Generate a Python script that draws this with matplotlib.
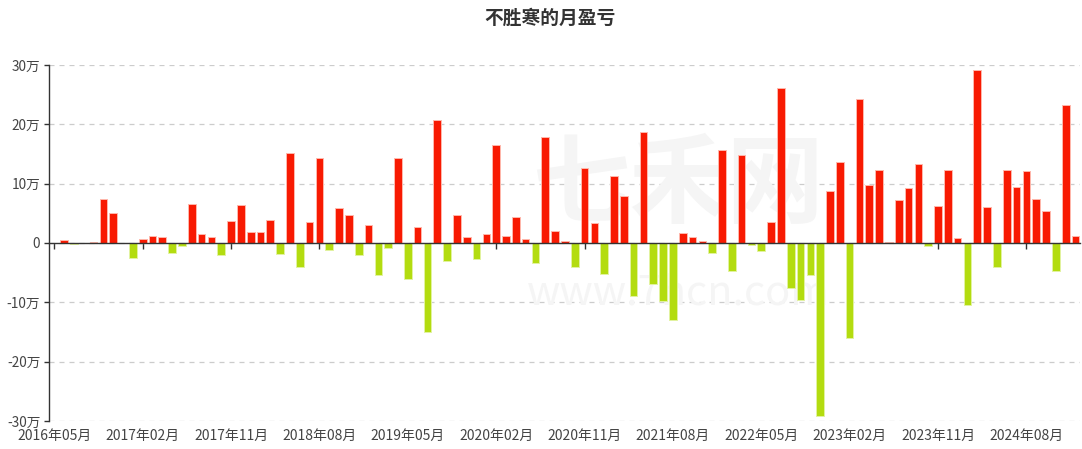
import matplotlib
matplotlib.use("Agg")
import matplotlib.pyplot as plt
import numpy as np
import pandas as pd

plt.rcParams['font.family'] = ['Noto Sans CJK SC', 'DejaVu Sans']

title = "不胜寒的月盈亏"
months = list(pd.period_range('2016-05', '2025-01', freq='M').strftime('%Y年%m月'))

# monthly profit / loss, unit: 万
pnl_wan = [
    0.0, 0.5, -0.15, 0.0, 0.1, 7.4, 5.0, 0.0, -2.5, 0.6,
    1.2, 1.0, -1.7, -0.45, 6.5, 1.6, 1.0, -2.1, 3.65, 6.35,
    1.85, 1.8, 3.9, -1.9, 15.2, -4.1, 3.55, 14.4, -1.2, 5.85,
    4.8, -2.1, 3.0, -5.45, -0.9, 14.4, -6.1, 2.7, -15.0, 20.7,
    -3.1, 4.66, 0.95, -2.75, 1.46, 16.5, 1.12, 4.4, 0.73, -3.4,
    17.8, 2.0, 0.34, -4.0, 12.6, 3.37, -5.3, 11.3, 8.0, -9.0,
    18.65, -6.85, -9.8, -12.9, 1.7, 1.07, 0.28, -1.7, 15.7, -4.8,
    14.8, -0.3, -1.4, 3.54, 26.2, -7.5, -9.55, -5.4, -29.1, 8.8,
    13.7, -16.0, 24.2, 9.78, 12.25, 0.22, 7.25, 9.27, 13.3, -0.45,
    6.2, 12.25, 0.8, -10.5, 29.1, 6.07, -4.1, 12.25, 9.5, 12.13,
    7.5, 5.4, -4.8, 23.3, 1.24,
]
y_ticks = [-30, -20, -10, 0, 10, 20, 30]
label_step = 9

RED = '#F81A02'
GREEN = '#B3DC10'

W, H = 1082, 449
fig = plt.figure(figsize=(W / 100, H / 100), dpi=100)
ax = fig.add_axes([49.4 / W, 28 / H, 1031 / W, 356 / H])

x = np.arange(len(months))
vals = np.array(pnl_wan)
colors = [RED if v >= 0 else GREEN for v in vals]
edges = ['#FFB8AC' if v >= 0 else '#E2F3A0' for v in vals]
ax.bar(x, vals, width=0.78, color=colors, edgecolor=edges, linewidth=0.7, zorder=3)

ax.set_xlim(-0.5, len(months) - 0.5)
ax.set_ylim(-30, 30)

# grid
ax.set_yticks(y_ticks)
ax.yaxis.grid(True, color='#cccccc', linestyle=(0, (4, 4)), linewidth=0.9, zorder=0)
ax.set_axisbelow(True)
ax.set_yticklabels([f"{t}万" if t != 0 else "0" for t in y_ticks],
                   fontsize=9.8, color='#444444')
ax.tick_params(axis='y', length=3.5, width=1, color='#333333', pad=3)

for s in ['top', 'right']:
    ax.spines[s].set_visible(False)
ax.spines['left'].set_color('#333333')
ax.spines['left'].set_linewidth(1)
ax.spines['bottom'].set_position(('data', 0))
ax.spines['bottom'].set_color('#333333')
ax.spines['bottom'].set_linewidth(1)
ax.spines['bottom'].set_zorder(4)

tick_pos = x[::label_step]
ax.set_xticks(tick_pos)
ax.set_xticklabels([''] * len(tick_pos))
ax.tick_params(axis='x', length=4, width=1, color='#333333', direction='out')

sec = ax.secondary_xaxis(0)
sec.set_xticks(tick_pos)
sec.set_xticklabels([months[i] for i in tick_pos], fontsize=10, color='#444444')
sec.tick_params(axis='x', length=0, pad=6)
sec.spines['bottom'].set_visible(False)

# faint watermark
ax.text(0.61, 0.66, "七禾网", transform=ax.transAxes, fontsize=70, color='#f5f5f5',
        ha='center', va='center', zorder=1, fontweight='bold')
ax.text(0.61, 0.36, "www.7hcn.com", transform=ax.transAxes, fontsize=30, color='#f5f5f5',
        ha='center', va='center', zorder=1)

fig.text(550 / W, 1 - 18 / H, title, ha='center', va='center', fontsize=13.5,
         fontweight='bold', color='#333333')

fig.savefig('out.png', dpi=100)
